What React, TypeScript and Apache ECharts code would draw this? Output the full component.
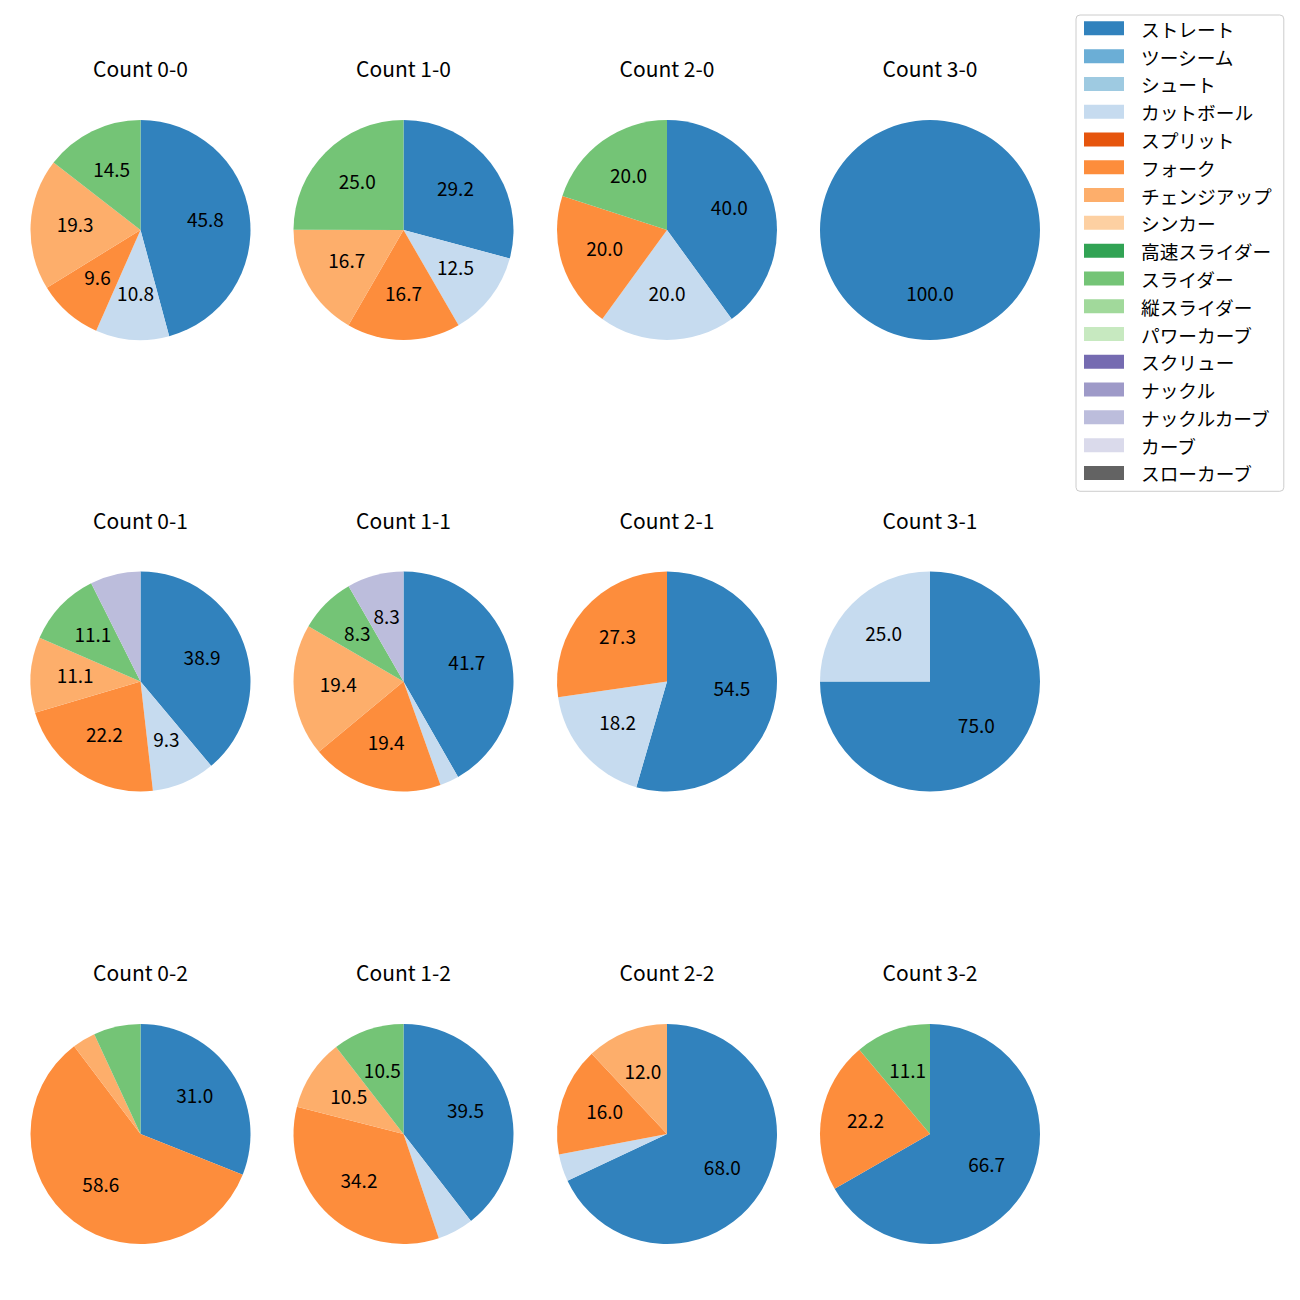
import React, { useEffect, useRef } from "react";
import * as echarts from "echarts";

const categories = [
  "ストレート", "ツーシーム", "シュート", "カットボール", "スプリット", "フォーク",
  "チェンジアップ", "シンカー", "高速スライダー", "スライダー", "縦スライダー",
  "パワーカーブ", "スクリュー", "ナックル", "ナックルカーブ", "カーブ", "スローカーブ",
];
const colors = [
  "#3182bd", "#6baed6", "#9ecae1", "#c6dbef", "#e6550d", "#fd8d3c",
  "#fdae6b", "#fdd0a2", "#31a354", "#74c476", "#a1d99b", "#c7e9c0",
  "#756bb1", "#9e9ac8", "#bcbddc", "#dadaeb", "#636363",
];

const titles = [
  "Count 0-0", "Count 1-0", "Count 2-0", "Count 3-0",
  "Count 0-1", "Count 1-1", "Count 2-1", "Count 3-1",
  "Count 0-2", "Count 1-2", "Count 2-2", "Count 3-2",
];

type Slice = [string, number];
const count00: Slice[] = [["ストレート", 45.8], ["カットボール", 10.8], ["フォーク", 9.6], ["チェンジアップ", 19.3], ["スライダー", 14.5]];
const count10: Slice[] = [["ストレート", 29.2], ["カットボール", 12.5], ["フォーク", 16.7], ["チェンジアップ", 16.7], ["スライダー", 25.0]];
const count20: Slice[] = [["ストレート", 40.0], ["カットボール", 20.0], ["フォーク", 20.0], ["スライダー", 20.0]];
const count30: Slice[] = [["ストレート", 100.0]];
const count01: Slice[] = [["ストレート", 38.9], ["カットボール", 9.3], ["フォーク", 22.2], ["チェンジアップ", 11.1], ["スライダー", 11.1], ["ナックルカーブ", 7.4]];
const count11: Slice[] = [["ストレート", 41.7], ["カットボール", 2.8], ["フォーク", 19.4], ["チェンジアップ", 19.4], ["スライダー", 8.3], ["ナックルカーブ", 8.3]];
const count21: Slice[] = [["ストレート", 54.5], ["カットボール", 18.2], ["フォーク", 27.3]];
const count31: Slice[] = [["ストレート", 75.0], ["カットボール", 25.0]];
const count02: Slice[] = [["ストレート", 31.0], ["フォーク", 58.6], ["チェンジアップ", 3.4], ["スライダー", 6.9]];
const count12: Slice[] = [["ストレート", 39.5], ["カットボール", 5.3], ["フォーク", 34.2], ["チェンジアップ", 10.5], ["スライダー", 10.5]];
const count22: Slice[] = [["ストレート", 68.0], ["カットボール", 4.0], ["フォーク", 16.0], ["チェンジアップ", 12.0]];
const count32: Slice[] = [["ストレート", 66.7], ["フォーク", 22.2], ["スライダー", 11.1]];

const panels = [count00, count10, count20, count30, count01, count11, count21, count31, count02, count12, count22, count32];

const FONT = "'Noto Sans CJK JP', 'Noto Sans', sans-serif";

export default function App() {
  const ref = useRef<HTMLDivElement>(null);
  useEffect(() => {
    document.body.style.margin = "0";
    const chart = echarts.init(ref.current!, null, { renderer: "svg" });
    const colX = [140.5, 403.5, 667, 930];
    const rowY = [230, 681.5, 1134];
    const R = 110;
    const TITLE_FS = 21;
    const colorOf = (n: string) => colors[categories.indexOf(n)];

    const series: any[] = [
      {
        type: "pie",
        name: "legend-holder",
        center: [-500, -500],
        radius: [0, 0],
        stillShowZeroSum: false,
        silent: true,
        label: { show: false },
        labelLine: { show: false },
        data: categories.map((c, i) => ({ name: c, value: 0, itemStyle: { color: colors[i] } })),
      },
    ];
    const title: any[] = [];
    panels.forEach((p, idx) => {
      const cx = colX[idx % 4];
      const cy = rowY[Math.floor(idx / 4)];
      title.push({
        text: titles[idx],
        left: cx,
        top: cy - 161 - TITLE_FS / 2 - 1,
        padding: 0,
        textAlign: "center",
        textStyle: { fontFamily: FONT, fontSize: TITLE_FS, fontWeight: "normal", color: "#000" },
      });
      series.push({
        type: "pie",
        center: [cx, cy],
        radius: [0, R],
        startAngle: 90,
        clockwise: true,
        silent: true,
        label: { show: false },
        labelLine: { show: false },
        data: p.map(([n, v]) => ({ name: n, value: v, itemStyle: { color: colorOf(n) } })),
      });
      series.push({
        type: "pie",
        center: [cx, cy],
        radius: [15, R],
        startAngle: 90,
        clockwise: true,
        silent: true,
        itemStyle: { color: "rgba(0,0,0,0)" },
        labelLine: { show: false },
        label: {
          show: true,
          position: "inside",
          fontFamily: FONT,
          fontSize: 19,
          color: "#000",
          offset: [0, -3],
          formatter: (d: any) => (d.value >= 8 ? d.value.toFixed(1) : ""),
        },
        data: p.map(([n, v]) => ({ name: n, value: v })),
      });
    });

    chart.setOption({
      animation: false,
      backgroundColor: "#fff",
      title,
      legend: {
        orient: "vertical",
        left: 1076,
        top: 15,
        data: categories,
        icon: "rect",
        itemWidth: 40,
        itemHeight: 14,
        itemGap: 9.1,
        padding: [4, 12, 9, 8],
        borderColor: "#cccccc",
        borderWidth: 1,
        borderRadius: 4,
        selectedMode: false,
        textStyle: { fontFamily: FONT, fontSize: 18.7, color: "#000", padding: [0, 0, 0, 12] },
      },
      series,
    });
    return () => chart.dispose();
  }, []);
  return <div ref={ref} style={{ width: 1300, height: 1300 }} />;
}
